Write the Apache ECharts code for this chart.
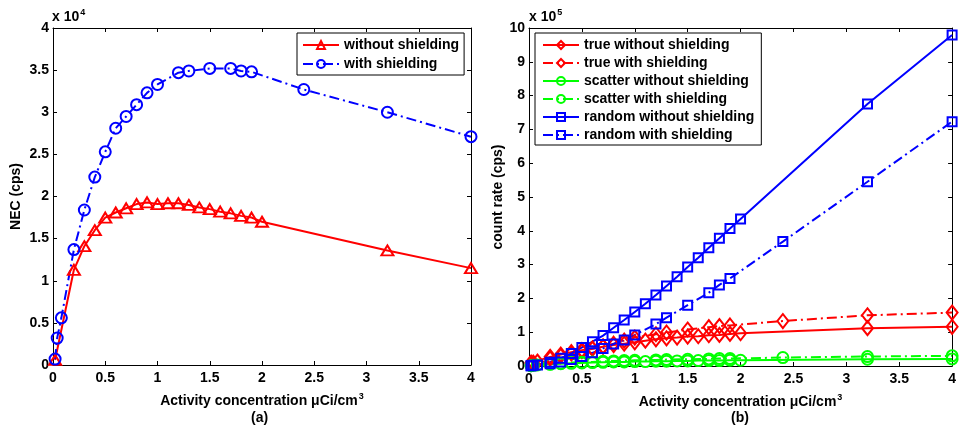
<!DOCTYPE html>
<html>
<head>
<meta charset="utf-8">
<script src="https://cdn.jsdelivr.net/npm/echarts@6/dist/echarts.min.js"></script>
<style>
  html, body { margin: 0; padding: 0; background: #fff; }
  #chart { width: 959px; height: 429px; }
</style>
</head>
<body>
<div id="chart"></div>
<script>
// activity concentration (uCi/cm3) at which each configuration was measured
const xWithout = [0.02, 0.2, 0.3, 0.4, 0.5, 0.6, 0.7, 0.8, 0.9, 1.0, 1.1, 1.2, 1.3, 1.4, 1.5, 1.6, 1.7, 1.8, 1.9, 2.0, 3.2, 4.0]
const xWith = [0.02, 0.04, 0.08, 0.2, 0.3, 0.4, 0.5, 0.6, 0.7, 0.8, 0.9, 1.0, 1.2, 1.3, 1.5, 1.7, 1.8, 1.9, 2.4, 3.2, 4.0]

// (a) NEC, cps
const necWithout = [600, 11300, 14100, 16000, 17500, 18100, 18600, 19100, 19300, 19100, 19200, 19200, 19000, 18700, 18500, 18200, 18000, 17700, 17500, 17000, 13600, 11500]
const necWith = [700, 3200, 5600, 13700, 18400, 22300, 25300, 28100, 29500, 30900, 32300, 33300, 34700, 34900, 35200, 35200, 34900, 34800, 32700, 30000, 27100]

// (b) count rates, cps
const trueWithout = [10000, 27000, 34000, 41000, 47000, 52000, 57000, 62000, 66000, 70000, 75000, 79000, 82000, 84000, 87000, 88000, 91000, 92000, 95000, 97000, 112000, 116000]
const trueWith = [8000, 10000, 13000, 22000, 30000, 37000, 44000, 51000, 58000, 66000, 75000, 84000, 94000, 99000, 108000, 115000, 118000, 120000, 133000, 150000, 158000]
const scatterWithout = [1000, 5000, 7000, 8000, 9000, 10000, 11000, 12000, 12000, 13000, 13000, 14000, 14000, 15000, 15000, 16000, 16000, 16000, 17000, 17000, 20000, 21000]
const scatterWith = [1000, 2000, 3000, 6000, 8000, 10000, 11000, 12000, 14000, 15000, 16000, 17000, 18000, 19000, 20000, 21000, 22000, 22000, 25000, 28000, 30000]
const randomWithout = [1000, 11000, 23000, 37000, 55000, 72000, 90000, 113000, 136000, 160000, 184000, 210000, 237000, 264000, 293000, 320000, 350000, 378000, 407000, 435000, 775000, 979000]
const randomWith = [1000, 2000, 3000, 7000, 12000, 19000, 28000, 39000, 52000, 65000, 77000, 92000, 124000, 143000, 180000, 217000, 240000, 259000, 368000, 545000, 723000]

const xTicks = { min: 0, max: 4, interval: 0.5 }
const necTicks = { min: 0, max: 40000, interval: 5000 }
const rateTicks = { min: 0, max: 1000000, interval: 100000 }

const FONT = "'Liberation Sans', Arial, sans-serif"
const RED = '#ff0000'
const BLUE = '#0000ff'
const GREEN = '#00ff00'
const DASHDOT = [10, 4, 2, 4]

const pairs = (xs, ys) => xs.map((x, i) => [x, ys[i]])

const textBase = { color: '#000', fontFamily: FONT, fontWeight: 'bold', fontSize: 14 }
const supStyle = { fontFamily: FONT, fontWeight: 'bold', fontSize: 9, verticalAlign: 'top', padding: [0, 0, 9, 1] }

const frameAxis = (grid, pos, ticks, extra) => Object.assign({
  type: 'value',
  gridIndex: grid,
  position: pos,
  min: ticks.min,
  max: ticks.max,
  interval: ticks.interval,
  axisLine: { show: true, onZero: false, lineStyle: { color: '#000', width: 1 } },
  axisTick: { show: true, inside: true, length: 4, lineStyle: { color: '#000' } },
  axisLabel: { show: false },
  splitLine: { show: false },
}, extra || {})

const xName = {
  name: 'Activity concentration \u03bcCi/cm{sup|3}',
  nameLocation: 'middle',
  nameGap: 27,
  nameTextStyle: Object.assign({}, textBase, { rich: { sup: supStyle } }),
}

const shownLabel = (fmt, margin) => ({ show: true, margin: margin, formatter: fmt, ...textBase })

const lineSeries = (name, xi, data, color, dashed, symbol, size) => ({
  name: name,
  type: 'line',
  xAxisIndex: xi,
  yAxisIndex: xi,
  data: data,
  symbol: symbol,
  symbolSize: size,
  showSymbol: true,
  lineStyle: { color: color, width: 2, type: dashed ? DASHDOT : 'solid' },
  itemStyle: { color: 'rgba(255,255,255,0)', borderColor: color, borderWidth: 2 },
  emphasis: { disabled: true },
})

const chart = echarts.init(document.getElementById('chart'))
chart.setOption({
  animation: false,
  backgroundColor: '#fff',
  grid: [
    { left: 53, right: 488, top: 28, bottom: 64 },
    { left: 529, right: 4, top: 28, bottom: 63 },
  ],
  xAxis: [
    frameAxis(0, 'bottom', xTicks, Object.assign({ axisLabel: shownLabel(null, 6) }, xName)),
    frameAxis(0, 'top', xTicks),
    frameAxis(1, 'bottom', xTicks, Object.assign({ axisLabel: shownLabel(null, 6) }, xName)),
    frameAxis(1, 'top', xTicks),
  ],
  yAxis: [
    frameAxis(0, 'left', necTicks, {
      axisLabel: shownLabel((v) => String(v / 10000), 4),
      name: 'NEC (cps)', nameLocation: 'middle', nameGap: 30, nameTextStyle: textBase,
    }),
    frameAxis(0, 'right', necTicks),
    frameAxis(1, 'left', rateTicks, {
      axisLabel: shownLabel((v) => String(v / 100000), 4),
      name: 'count rate (cps)', nameLocation: 'middle', nameGap: 24, nameTextStyle: textBase,
    }),
    frameAxis(1, 'right', rateTicks),
  ],
  legend: [
    {
      data: ['without shielding', 'with shielding'],
      orient: 'vertical', left: 297, top: 33,
      padding: [5, 5, 4, 5], itemGap: 5, itemWidth: 36, itemHeight: 10,
      borderColor: '#000', borderWidth: 1, backgroundColor: '#fff',
      textStyle: textBase, selectedMode: false,
    },
    {
      data: ['true without shielding', 'true with shielding', 'scatter without shielding',
        'scatter with shielding', 'random without shielding', 'random with shielding'],
      orient: 'vertical', left: 535, top: 33,
      padding: [5, 7, 3, 7], itemGap: 4, itemWidth: 36, itemHeight: 10,
      borderColor: '#000', borderWidth: 1, backgroundColor: '#fff',
      textStyle: textBase, selectedMode: false,
    },
  ],
  graphic: [
    { type: 'text', left: 52, top: 8, style: { text: 'x 10{s|4}', ...textBase, rich: { s: supStyle } } },
    { type: 'text', left: 529, top: 8, style: { text: 'x 10{s|5}', ...textBase, rich: { s: supStyle } } },
    { type: 'text', left: 251, top: 411, style: { text: '(a)', ...textBase } },
    { type: 'text', left: 731, top: 411, style: { text: '(b)', ...textBase } },
  ],
  series: [
    lineSeries('without shielding', 0, pairs(xWithout, necWithout), RED, false, 'triangle', [12, 10]),
    lineSeries('with shielding', 0, pairs(xWith, necWith), BLUE, true, 'circle', 11),
    lineSeries('true without shielding', 2, pairs(xWithout, trueWithout), RED, false, 'diamond', [11, 14]),
    lineSeries('true with shielding', 2, pairs(xWith, trueWith), RED, true, 'diamond', [11, 14]),
    lineSeries('scatter without shielding', 2, pairs(xWithout, scatterWithout), GREEN, false, 'circle', 11),
    lineSeries('scatter with shielding', 2, pairs(xWith, scatterWith), GREEN, true, 'circle', 11),
    lineSeries('random without shielding', 2, pairs(xWithout, randomWithout), BLUE, false, 'rect', 9),
    lineSeries('random with shielding', 2, pairs(xWith, randomWith), BLUE, true, 'rect', 9),
  ],
})
</script>
</body>
</html>
